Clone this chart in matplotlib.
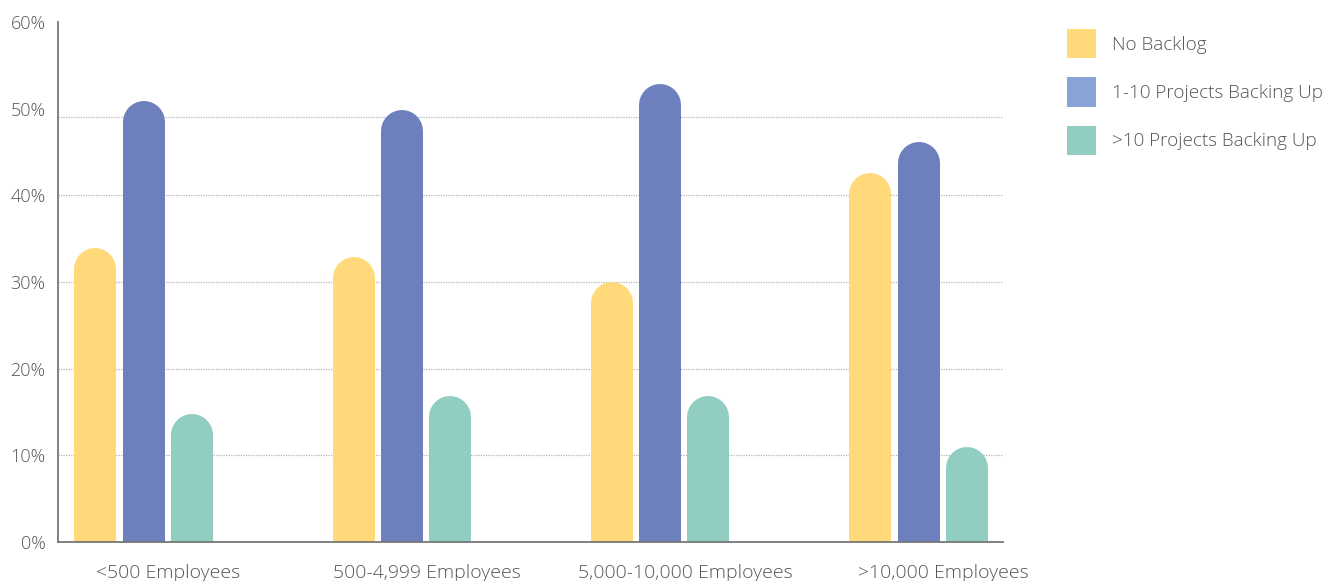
import numpy as np
import matplotlib.pyplot as plt
import matplotlib.transforms as mtransforms
from matplotlib.patches import Patch

plt.rcParams['font.family'] = ['Open Sans', 'DejaVu Sans']

CATEGORIES = ["<500 Employees", "500-4,999 Employees", "5,000-10,000 Employees", ">10,000 Employees"]
NO_BACKLOG = [33.9, 32.9, 30.0, 42.6]
ONE_TO_TEN = [50.9, 49.8, 52.9, 46.2]
OVER_TEN = [14.8, 16.8, 16.8, 11.0]

SERIES = ["No Backlog", "1-10 Projects Backing Up", ">10 Projects Backing Up"]
BAR_COLORS = ["#FFD97A", "#6E7FBD", "#91CEC1"]
LEGEND_COLORS = ["#FFD97A", "#88A3D6", "#91CEC1"]
TEXT = "#555555"

W, H, DPI = 1333, 581, 100
fig = plt.figure(figsize=(W / DPI, H / DPI), dpi=DPI)
ax = fig.add_axes([58 / W, 39 / H, 945 / W, 520 / H])

ax.set_xlim(-0.331, 3.327)
ax.set_ylim(0, 60)

# bars are thick lines with round caps; the top cap ends at the value
bar_px = 42
px_per_unit = 520 / 60
cap = (bar_px / 2) / px_per_unit
offset = 0.186
x = np.arange(len(CATEGORIES))
for i, vals in enumerate([NO_BACKLOG, ONE_TO_TEN, OVER_TEN]):
    for xi, v in zip(x + (i - 1) * offset, vals):
        ax.plot([xi, xi], [0, v - cap], color=BAR_COLORS[i],
                lw=bar_px * 72 / DPI, solid_capstyle='round', zorder=3)

# dotted grid
for g in [10, 20, 30, 40, 49]:
    ax.axhline(g, color="#b5b5b5", lw=0.9, ls=(0, (1, 1)), zorder=1)

for s in ["top", "right"]:
    ax.spines[s].set_visible(False)
for s in ["left", "bottom"]:
    ax.spines[s].set_color("#777777")
    ax.spines[s].set_linewidth(1.3)
    ax.spines[s].set_zorder(4)

ax.set_yticks(np.arange(0, 61, 10))
ax.set_yticklabels([f"{v}%" for v in range(0, 61, 10)])
ax.set_xticks(x)
ax.set_xticklabels(CATEGORIES)
ax.tick_params(axis='y', length=0, pad=9, labelsize=13, labelcolor=TEXT)
ax.tick_params(axis='x', length=0, pad=16, labelsize=14, labelcolor=TEXT)
for lab in ax.get_xticklabels() + ax.get_yticklabels():
    lab.set_fontweight('light')

# category labels sit a little right of the group centre
shift = mtransforms.ScaledTranslation(25 / DPI, 0, fig.dpi_scale_trans)
for lab in ax.get_xticklabels():
    lab.set_transform(lab.get_transform() + shift)

handles = [Patch(facecolor=c, edgecolor='none') for c in LEGEND_COLORS]
leg = fig.legend(handles, SERIES, loc='upper left', bbox_to_anchor=(1050 / W, 1 - 12 / H),
                 frameon=False, fontsize=13.6, handlelength=1.55, handleheight=2.0,
                 handletextpad=0.85, labelspacing=1.02)
for t in leg.get_texts():
    t.set_color(TEXT)
    t.set_fontweight('light')

fig.savefig("out.png", dpi=DPI)
